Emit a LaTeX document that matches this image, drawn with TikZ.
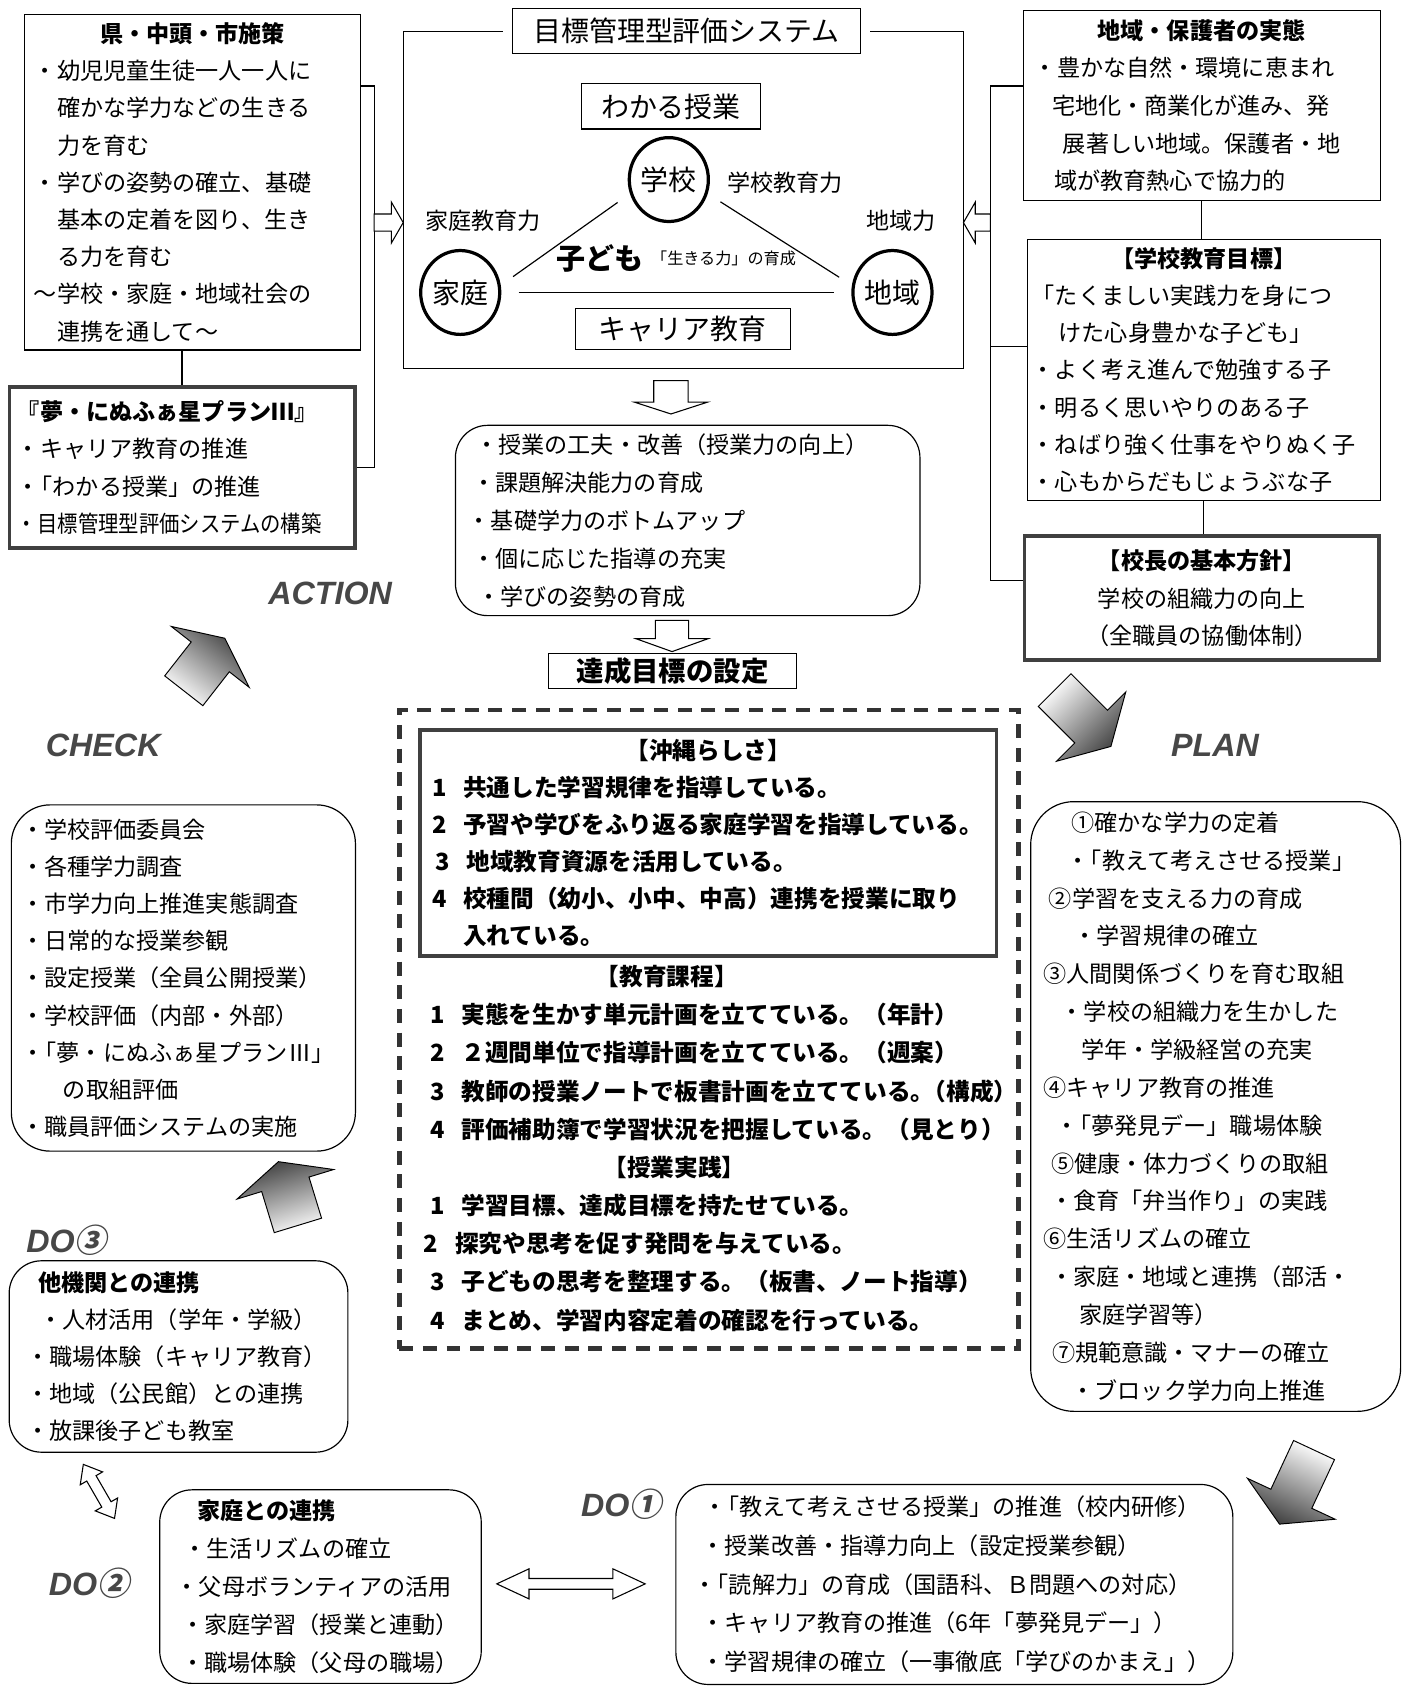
\documentclass[tikz,border=0pt]{standalone}
\usepackage{fontspec}
\usepackage{graphicx}
\setmainfont{Noto Sans CJK JP}
\newfontfamily\pdcafont{Liberation Sans}
\newfontfamily\circfont[FakeSlant=0.2]{Noto Sans CJK JP}
\usetikzlibrary{positioning,shapes.geometric}

\newcommand{\itm}[1]{\makebox[29pt][l]{#1}}
\newcommand{\dolabel}[1]{DO{\circfont\bfseries #1}}
\newcommand{\dq}{・\kern-.45em}
% block arrow: [style]{centre}{angle}{length}{shaft}{head width}{head length}
\newcommand{\blockarrow}[7][]{%
  \begin{scope}[shift={#2}, rotate=#3]
    \path[#1] ({-#4/2},{#5/2}) -- ({#4/2-#7},{#5/2}) -- ({#4/2-#7},{#6/2})
      -- ({#4/2},0) -- ({#4/2-#7},{-#6/2}) -- ({#4/2-#7},{-#5/2})
      -- ({-#4/2},{-#5/2}) -- cycle;
  \end{scope}}
\newcommand{\twinarrow}[7][]{%
  \begin{scope}[shift={#2}, rotate=#3]
    \path[#1] ({-#4/2},0) -- ({-#4/2+#7},{#6/2}) -- ({-#4/2+#7},{#5/2})
      -- ({#4/2-#7},{#5/2}) -- ({#4/2-#7},{#6/2}) -- ({#4/2},0)
      -- ({#4/2-#7},{-#6/2}) -- ({#4/2-#7},{-#5/2}) -- ({-#4/2+#7},{-#5/2})
      -- ({-#4/2+#7},{-#6/2}) -- cycle;
  \end{scope}}

\tikzset{
  txt/.style={font=\fontsize{21.5}{#1}\selectfont},
  txt/.default=34.8,
  btxt/.style={font=\fontsize{22}{#1}\selectfont\bfseries},
  big/.style={font=\fontsize{26}{26}\selectfont},
  panel/.style={draw, line width=1.1pt, anchor=north west, align=left, inner ysep=0pt},
  thickpanel/.style={panel, line width=3.6pt, draw=black!75},
  roundpanel/.style={panel, rounded corners=30pt},
  ring/.style={ellipse, draw, line width=3pt, minimum width=70pt, minimum height=78pt, inner sep=0pt, big},
  link/.style={line width=1.1pt},
  hollow/.style={draw, line width=1pt, fill=white},
  shadearrow/.style={draw, line width=0.9pt, top color=black!75, bottom color=white, shading angle=#1},
  pdca/.style={font=\pdcafont\bfseries\itshape\fontsize{30}{30}\selectfont, text=black!72},
}

\begin{document}
\begin{tikzpicture}[x=1pt,y=-1pt]
\useasboundingbox (0,0) rectangle (1304,1568);

% top left
\node[panel, txt=34.6, text width=295pt, inner xsep=9pt, minimum height=312pt] (aBox) at (22,13) {%
{\centering\bfseries 県・中頭・市施策\par}
・幼児児童生徒一人一人に\\
\hspace*{1em}確かな学力などの生きる\\
\hspace*{1em}力を育む\\
・学びの姿勢の確立、基礎\\
\hspace*{1em}基本の定着を図り、生き\\
\hspace*{1em}る力を育む\\
〜学校・家庭・地域社会の\\
\hspace*{1em}連携を通して〜};
\node[thickpanel, txt=34.7, text width=307pt, inner xsep=7pt, minimum height=150pt] (planB) at (7,358) {%
\textbf{『夢・にぬふぁ星プランⅢ』}\\
・キャリア教育の推進\\
\dq「わかる授業」の推進\\
\scalebox{0.88}[1]{・目標管理型評価システムの構築}};
\coordinate (lbus) at (348,80);
\draw[link] (aBox.east |- lbus) -- (lbus) |- (planB.east);
\draw[link] (aBox.south -| planB.north) -- (planB.north);
\blockarrow[hollow]{(361.5,207)}{0}{27}{16}{38}{11}

% centre frame
\node[panel, anchor=center, inner sep=0pt, minimum width=323pt, minimum height=42pt, big] (sysTitle) at (638.5,29) {目標管理型評価システム};
\draw[link] ([xshift=-9pt]sysTitle.west) -- (375,29) -- (375,343) -- (896,343) -- (896,29) -- ([xshift=9pt]sysTitle.east);
\node[panel, anchor=center, inner sep=0pt, minimum width=166pt, minimum height=42pt, big] (wakaru) at (624,99) {わかる授業};
\node[ring] (school) at (622,167) {学校};
\node[ring] (home) at (428,272) {家庭};
\node[ring] (region) at (830,272) {地域};
\draw[link, shorten <=14pt, shorten >=14pt] (school.200) -- (home.10);
\draw[link, shorten <=14pt, shorten >=14pt] (school.340) -- (region.170);
\draw[link, shorten <=16pt, shorten >=16pt] (home) -- (region);
\node[txt] (schoolPow) at (730,170) {学校教育力};
\node[txt] (homePow) at (449,205) {家庭教育力};
\node[txt] (regionPow) at (838,205) {地域力};
\node[font=\fontsize{27}{27}\selectfont\bfseries] (kodomo) at (558,240) {子ども};
\node[right=0pt of kodomo, font=\fontsize{15}{15}\selectfont] (ikiru) {「生きる力」の育成};
\node[panel, anchor=center, inner sep=0pt, minimum width=200pt, minimum height=38pt, big] (career) at (635,306) {キャリア教育};

% top right
\node[panel, txt=35, text width=312pt, inner xsep=10pt, minimum height=177pt] (regionBox) at (951,9) {%
{\centering\bfseries 地域・保護者の実態\par}
・豊かな自然・環境に恵まれ\\
\hspace*{17pt}宅地化・商業化が進み、発\\
\hspace*{27pt}展著しい地域。保護者・地\\
\hspace*{19pt}域が教育熱心で協力的};
\node[panel, txt=34.7, text width=320pt, inner xsep=4pt, minimum height=243pt] (goalSchoolBox) at (955,222) {%
{\centering\bfseries 【学校教育目標】\par}
「たくましい実践力を身につ\\
\hspace*{25pt}けた心身豊かな子ども」\\
・よく考え進んで勉強する子\\
・明るく思いやりのある子\\
・ねばり強く仕事をやりぬく子\\
・心もからだもじょうぶな子};
\node[thickpanel, align=center, txt=34.5, text width=310pt, inner xsep=10pt, minimum height=115pt] (principalBox) at (951,497) {%
\textbf{【校長の基本方針】}\\
学校の組織力の向上\\
（全職員の協働体制）};
\coordinate (rbus) at (921,80);
\coordinate (rbusMid) at (921,322);
\coordinate (rbusEnd) at (921,540);
\draw[link] (regionBox.west |- rbus) -- (rbus) -- (rbusEnd) -- (principalBox.west |- rbusEnd);
\draw[link] (rbusMid) -- (goalSchoolBox.west |- rbusMid);
\draw[link] (regionBox.south) -- (regionBox.south |- goalSchoolBox.north);
\draw[link] (goalSchoolBox.south) -- (goalSchoolBox.south |- principalBox.north);
\blockarrow[hollow]{(908.5,207)}{180}{25}{16}{38}{11}

% middle column
\blockarrow[hollow]{(624,369.5)}{-90}{31}{32}{68}{11}
\node[roundpanel, txt=35.25, text width=401pt, inner xsep=15.5pt, minimum height=177pt] (lessonBox) at (423,395) {%
\hspace*{3pt}・授業の工夫・改善（授業力の向上）\\
・課題解決能力の育成\\
\hspace*{-4pt}・基礎学力のボトムアップ\\
・個に応じた指導の充実\\
\hspace*{5pt}・学びの姿勢の育成};
\blockarrow[hollow]{(625,591.5)}{-90}{29}{31}{67}{12}
\node[panel, anchor=center, inner sep=0pt, minimum width=231pt, minimum height=32pt, font=\fontsize{25.5}{25.5}\selectfont\bfseries] (targetBox) at (625.5,624) {達成目標の設定};

% dashed block
\node[draw=black!80, line width=4.5pt, dash pattern=on 13pt off 9pt, anchor=north west, minimum width=576pt, minimum height=594pt] (doFrame) at (369,658) {};
\node[thickpanel, btxt=34.4, text width=514pt, inner xsep=11pt, minimum height=210pt] (okiBox) at (389,677) {%
{\centering 【沖縄らしさ】\par}
\itm{1}共通した学習規律を指導している。\\
\itm{2}予習や学びをふり返る家庭学習を指導している。\\
\hspace*{3pt}\itm{3}地域教育資源を活用している。\\
\itm{4}校種間（幼小、小中、中高）連携を授業に取り\\
\itm{}入れている。};
\node[anchor=north west, align=left, inner xsep=11pt, inner ysep=0pt, text width=514pt, btxt=35.5] (courseText) at ([yshift=-7pt]okiBox.south west) {%
\hspace*{154pt}【教育課程】\\
\itm{1}実態を生かす単元計画を立てている。（年計）\\
\itm{2}２週間単位で指導計画を立てている。（週案）\\
\itm{3}教師の授業ノートで板書計画を立てている。\kern-.5em（構成）\\
\itm{4}評価補助簿で学習状況を把握している。（見とり）\\
\hspace*{161pt}【授業実践】\\
\itm{1}学習目標、達成目標を持たせている。\\
\hspace*{-6pt}\itm{2}探究や思考を促す発問を与えている。\\
\itm{3}子どもの思考を整理する。（板書、ノート指導）\\
\itm{4}まとめ、学習内容定着の確認を行っている。};

% check / do boxes
\node[roundpanel, rounded corners=36pt, txt=34.6, text width=302pt, inner xsep=9pt, minimum height=322pt] (checkBox) at (10,748) {%
・学校評価委員会\\
・各種学力調査\\
・市学力向上推進実態調査\\
・日常的な授業参観\\
・設定授業（全員公開授業）\\
・学校評価（内部・外部）\\
\dq「夢・にぬふぁ星プランⅢ」\\
\hspace*{39pt}の取組評価\\
・職員評価システムの実施};
\node[roundpanel, txt=34.25, text width=283pt, inner xsep=16pt, minimum height=178pt] (agencyBox) at (8,1172) {%
\hspace*{11pt}\textbf{他機関との連携}\\
\hspace*{12pt}・人材活用（学年・学級）\\
・職場体験（キャリア教育）\\
・地域（公民館）との連携\\
・放課後子ども教室};
\node[roundpanel, txt=35.5, text width=271pt, inner xsep=14pt, minimum height=180pt] (homeBox) at (148,1385) {%
\hspace*{21pt}\textbf{家庭との連携}\\
\hspace*{8pt}・生活リズムの確立\\
\hspace*{1pt}・父母ボランティアの活用\\
\hspace*{6pt}・家庭学習（授業と連動）\\
\hspace*{6pt}・職場体験（父母の職場）};
\node[roundpanel, txt=36, text width=486pt, inner xsep=16pt, minimum height=186pt] (schoolDoBox) at (628,1380) {%
\hspace*{10pt}\dq「教えて考えさせる授業」の推進（校内研修）\\
\hspace*{8pt}・授業改善・指導力向上（設定授業参観）\\
\dq「読解力」の育成（国語科、Ｂ問題への対応）\\
\hspace*{8pt}・キャリア教育の推進（6年「夢発見デー」）\\
\hspace*{8pt}・学習規律の確立（一事徹底「学びのかまえ」）};
\node[roundpanel, rounded corners=40pt, txt=35.2, text width=324pt, inner xsep=10pt, minimum height=567pt] (planBox) at (958,745) {%
\hspace*{28pt}①確かな学力の定着\\
\hspace*{23pt}\dq「教えて考えさせる授業」\\
\hspace*{7pt}②学習を支える力の育成\\
\hspace*{30pt}・学習規律の確立\\
\hspace*{2pt}③人間関係づくりを育む取組\\
\hspace*{18pt}・学校の組織力を生かした\\
\hspace*{37pt}学年・学級経営の充実\\
\hspace*{2pt}④キャリア教育の推進\\
\hspace*{13pt}\dq「夢発見デー」職場体験\\
\hspace*{9pt}⑤健康・体力づくりの取組\\
\hspace*{8pt}・食育「弁当作り」の実践\\
\hspace*{2pt}⑥生活リズムの確立\\
\hspace*{8pt}・家庭・地域と連携（部活・\\
\hspace*{35pt}家庭学習等）\\
\hspace*{10pt}⑦規範意識・マナーの確立\\
\hspace*{28pt}・ブロック学力向上推進};
\twinarrow[hollow]{(92,1387)}{-60}{58}{10}{24}{15}
\twinarrow[hollow]{(531,1473)}{0}{138}{10}{28}{30}

% PDCA cycle
\blockarrow[shadearrow=-38]{(190,618)}{52}{62}{45}{92}{22}
\blockarrow[shadearrow=-135]{(1007,668)}{-45}{74}{43}{91}{26}
\blockarrow[shadearrow=155]{(1206,1383)}{-115}{76}{42}{90}{26}
\blockarrow[shadearrow=17]{(268,1110)}{107}{62}{46}{94}{22}
\node[pdca] (actionLbl) at (307,552) {ACTION};
\node[pdca] (checkLbl) at (96,693) {CHECK};
\node[pdca] (planLbl) at (1130,693) {PLAN};
\node[pdca] (do3Lbl) at (62,1153) {\dolabel{③}};
\node[pdca] (do2Lbl) at (83,1472) {\dolabel{②}};
\node[pdca] (do1Lbl) at (578,1399) {\dolabel{①}};
\end{tikzpicture}
\end{document}
